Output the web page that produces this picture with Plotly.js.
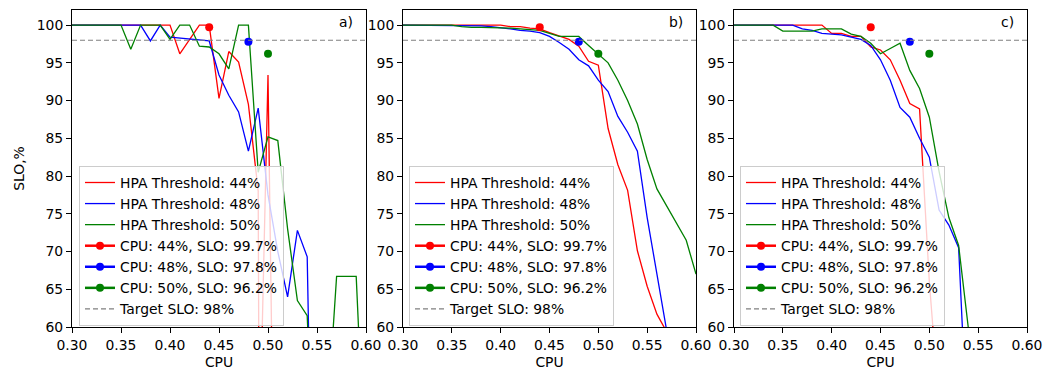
<!DOCTYPE html>
<html><head><meta charset="utf-8">
<script src="https://cdn.plot.ly/plotly-3.0.1.min.js"></script>
<style>html,body{margin:0;padding:0;background:#fff}#chart{width:1060px;height:370px}</style>
</head><body><div id="chart"></div>
<script>
// ---- data ----
const cpu = [0.30,0.31,0.32,0.33,0.34,0.35,0.36,0.37,0.38,0.39,0.40,0.41,0.42,0.43,0.44,0.45,0.46,0.47,0.48,0.49,0.50,0.51,0.52,0.53,0.54,0.55,0.56,0.57,0.58,0.59,0.60];
const cpuRedA = [0.30,0.31,0.32,0.33,0.34,0.35,0.36,0.37,0.38,0.39,0.40,0.41,0.42,0.43,0.44,0.45,0.46,0.47,0.48,0.49,0.491,0.50,0.51,0.52,0.53,0.54,0.55,0.56,0.57,0.58,0.59,0.60];

const sloA44 = [100,100,100,100,100,100,100,100,100,100,100,96.2,98.1,100,100,90.3,96.5,95.1,89.5,78,42,93.4,0,0,0,0,0,0,0,0,0,0];
const sloA48 = [100,100,100,100,100,100,100,100,97.9,100,98.4,98.3,98.2,98.1,97.9,93.4,90.7,88.5,83.3,89.0,77.5,70,64,72.8,69.3,0,0,0,0,0,0];
const sloA50 = [100,100,100,100,100,100,96.8,100,100,100,98.1,100,100,97.2,97.1,96.2,94.2,100,100,80.5,85.2,84.7,73,63.5,61.5,30,47,66.7,66.7,66.7,38];

const sloB44 = [100,100,100,100,100,100,100,100,100,100,100,99.8,99.8,99.6,99.5,99.0,98.5,98.1,97.2,95.2,94.7,86.3,81.5,78.1,70.1,65.4,61.7,59.3,57,55,53];
const sloB48 = [100,100,100,100,100,100,99.9,99.9,99.9,99.8,99.7,99.5,99.3,99.2,99.0,98.5,97.7,96.8,95.4,94.6,92.7,91.2,87.9,85.8,83.3,74.5,67.0,59.5,56,53,50];
const sloB50 = [100,100,100,100,100,100,99.8,99.7,99.7,99.7,99.6,99.6,99.5,99.4,99.3,98.9,98.5,98.5,98.5,97.3,96.2,95.0,92.7,90.0,86.9,82.2,78.3,76.0,73.7,71.5,67.0];

const sloC44 = [100,100,100,100,100,100,100,100,100,100,98.9,98.9,98.5,98.5,97.1,96.7,95.4,92.7,89.6,88.9,66,44,20,0,0,0,0,0,0,0,0];
const sloC48 = [100,100,100,100,100,100,100,99.5,99.3,98.9,98.8,98.7,98.4,98.1,97.3,95.4,92.7,89.1,87.8,85.0,82.5,75.5,73.5,70.5,43,0,0,0,0,0,0];
const sloC50 = [100,100,100,100,100,99.2,99.2,99.2,99.2,99.5,99.5,99.5,98.8,98.5,97.6,96.2,96.9,97.6,94.0,91.6,87.8,80.6,74.5,70.8,59.8,40,0,0,0,0,0];

const thresholds = ['44%','48%','50%'];
const pointCpu = [0.44, 0.48, 0.50];
const pointSlo = [99.7, 97.8, 96.2];
const targetSlo = 98;
const targetX = [0.30, 0.60];
const xTicks = [0.30,0.35,0.40,0.45,0.50,0.55,0.60];
const yTicks = [60,65,70,75,80,85,90,95,100];
const panelLabels = ['a)','b)','c)'];

// ---- build ----
const colors = ['#ff0000','#0000ff','#008000'];
const FONT = 'DejaVu Sans, sans-serif';
const FS = 13.9;
const panels = [
  {xs:[cpuRedA,cpu,cpu], ys:[sloA44,sloA48,sloA50]},
  {xs:[cpu,cpu,cpu], ys:[sloB44,sloB48,sloB50]},
  {xs:[cpu,cpu,cpu], ys:[sloC44,sloC48,sloC50]}
];
const traces = [];
panels.forEach((p, i) => {
  const xa = i === 0 ? 'x' : 'x' + (i + 1);
  const ya = i === 0 ? 'y' : 'y' + (i + 1);
  const lg = i === 0 ? 'legend' : 'legend' + (i + 1);
  for (let k = 0; k < 3; k++) {
    traces.push({x:p.xs[k], y:p.ys[k], xaxis:xa, yaxis:ya, legend:lg, type:'scatter', mode:'lines',
      name:'HPA Threshold: ' + thresholds[k], line:{color:colors[k], width:1.3}});
  }
  for (let k = 0; k < 3; k++) {
    traces.push({x:[pointCpu[k]], y:[pointSlo[k]], xaxis:xa, yaxis:ya, legend:lg, type:'scatter', mode:'lines+markers',
      name:'CPU: ' + thresholds[k] + ', SLO: ' + pointSlo[k].toFixed(1) + '%',
      line:{color:colors[k], width:2.5}, marker:{color:colors[k], size:8}, cliponaxis:false});
  }
  traces.push({x:targetX, y:[targetSlo, targetSlo], xaxis:xa, yaxis:ya, legend:lg, type:'scatter', mode:'lines',
    name:'Target SLO: ' + targetSlo + '%', line:{color:'#808080', width:1.1, dash:'5px,3px'}});
});

const W = 955;
const domains = [[0, 294/W], [331/W, 624/W], [662/W, 1]];
const legendX = [7/W, 337/W, 668/W];
const layout = {
  width:1060, height:370,
  margin:{l:72, r:33, t:10, b:43},
  paper_bgcolor:'#fff', plot_bgcolor:'#fff',
  font:{family:FONT, size:FS, color:'#000'},
  showlegend:true,
  annotations:[]
};
function axisBase() {
  return {showline:true, linecolor:'#000', linewidth:1, mirror:true, ticks:'outside', ticklen:5,
    tickwidth:1, tickcolor:'#000', showgrid:false, zeroline:false, tickfont:{family:FONT, size:FS, color:'#000'}};
}
for (let i = 0; i < 3; i++) {
  const sfx = i === 0 ? '' : String(i + 1);
  const xa = Object.assign(axisBase(), {domain:domains[i], anchor:'y' + sfx, range:[0.30, 0.60],
    tickvals:xTicks, tickformat:'.2f', title:{text:'CPU', font:{family:FONT, size:FS}, standoff:6}});
  const ya = Object.assign(axisBase(), {domain:[0, 1], anchor:'x' + sfx, range:[60, 102], tickvals:yTicks});
  if (i === 0) ya.title = {text:'SLO,%', font:{family:FONT, size:FS}, standoff:8};
  layout['xaxis' + sfx] = xa;
  layout['yaxis' + sfx] = ya;
  layout['legend' + sfx] = {x:legendX[i], y:0.508, xanchor:'left', yanchor:'top', xref:'paper', yref:'paper',
    bgcolor:'rgba(255,255,255,0.8)', bordercolor:'#cccccc', borderwidth:1,
    font:{family:FONT, size:FS, color:'#000'}, itemwidth:30, tracegroupgap:0};
  layout.annotations.push({text:panelLabels[i], xref:'x' + sfx + ' domain', yref:'y' + sfx + ' domain',
    x:0.9626, y:0.962, xanchor:'right', yanchor:'middle', showarrow:false, font:{family:FONT, size:FS, color:'#000'}});
}
Plotly.newPlot('chart', traces, layout, {displayModeBar:false, staticPlot:true});
</script>
</body></html>
